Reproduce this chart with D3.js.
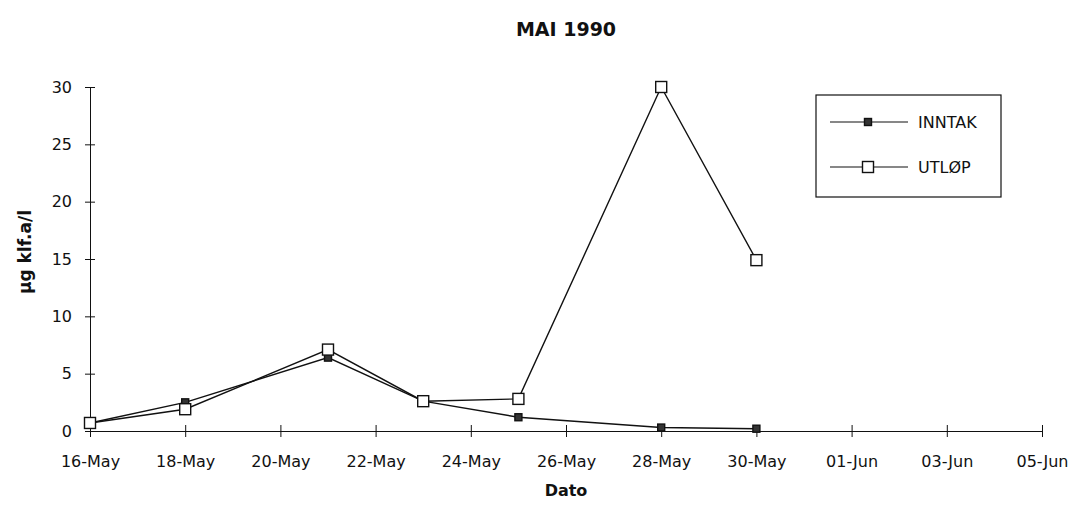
<!DOCTYPE html>
<html>
<head>
<meta charset="utf-8">
<script src="https://cdn.jsdelivr.net/npm/d3@7"></script>
<style>
  body { margin: 0; background: #fff; }
  text { font-family: "DejaVu Sans", sans-serif; fill: #111; }
</style>
</head>
<body>
<svg id="chart" width="1078" height="506"></svg>
<script>
// sample dates (1990) and measured values
var dates = ["1990-05-16", "1990-05-18", "1990-05-21", "1990-05-23", "1990-05-25", "1990-05-28", "1990-05-30"];
var inntak = [0.7, 2.5, 6.4, 2.6, 1.2, 0.3, 0.2];
var utlop = [0.7, 1.9, 7.1, 2.6, 2.8, 30, 14.9];
var yTicks = [0, 5, 10, 15, 20, 25, 30];
var xTicks = ["1990-05-16", "1990-05-18", "1990-05-20", "1990-05-22", "1990-05-24", "1990-05-26",
              "1990-05-28", "1990-05-30", "1990-06-01", "1990-06-03", "1990-06-05"];
var seriesNames = ["INNTAK", "UTLØP"];

var parse = d3.timeParse("%Y-%m-%d");
var svg = d3.select("#chart");

var x = d3.scaleTime()
    .domain([parse(xTicks[0]), parse(xTicks[xTicks.length - 1])])
    .range([90, 1042]);
var y = d3.scaleLinear()
    .domain([0, 30])
    .range([431, 87]);

// title
svg.append("text")
    .attr("x", 566).attr("y", 36)
    .attr("text-anchor", "middle")
    .style("font-size", "19px").style("font-weight", "bold")
    .text("MAI 1990");

// axes
var xAxis = d3.axisBottom(x)
    .tickValues(xTicks.map(parse))
    .tickFormat(d3.timeFormat("%d-%b"))
    .tickSizeInner(6).tickSizeOuter(0);
var yAxis = d3.axisLeft(y)
    .tickValues(yTicks)
    .tickSizeInner(5).tickSizeOuter(0);

var gx = svg.append("g").attr("transform", "translate(0," + y(0) + ")").call(xAxis);
gx.selectAll(".tick line").attr("y1", -6).attr("y2", 6);
gx.selectAll(".tick text").attr("y", 25).style("font-size", "16px");

var gy = svg.append("g").attr("transform", "translate(" + x(parse(xTicks[0])) + ",0)").call(yAxis);
gy.selectAll(".tick line").attr("x1", -5).attr("x2", 5);
gy.selectAll(".tick text").attr("x", -18).style("font-size", "16px");

svg.selectAll(".domain").attr("stroke", "#111");
svg.selectAll(".tick line").attr("stroke", "#111");
svg.selectAll(".tick text").style("fill", "#111").style("font-family", "'DejaVu Sans', sans-serif");

// axis titles
svg.append("text")
    .attr("transform", "translate(31,252) rotate(-90)")
    .attr("text-anchor", "middle")
    .style("font-size", "17px").style("font-weight", "bold")
    .text("µg klf.a/l");
svg.append("text")
    .attr("x", 566).attr("y", 496)
    .attr("text-anchor", "middle")
    .style("font-size", "16px").style("font-weight", "bold")
    .text("Dato");

// lines
var line = d3.line()
    .x(function (d) { return x(d[0]); })
    .y(function (d) { return y(d[1]); });

function pairs(vals) {
    return dates.map(function (d, i) { return [parse(d), vals[i]]; });
}

var series = [
    { name: seriesNames[0], data: pairs(inntak), fill: "#333", size: 7 },
    { name: seriesNames[1], data: pairs(utlop), fill: "#fff", size: 11 }
];

series.forEach(function (s) {
    svg.append("path")
        .datum(s.data)
        .attr("d", line)
        .attr("fill", "none")
        .attr("stroke", "#111")
        .attr("stroke-width", 1.4);
});

series.forEach(function (s) {
    svg.selectAll(null)
        .data(s.data)
        .enter()
        .append("rect")
        .attr("x", function (d) { return x(d[0]) - s.size / 2; })
        .attr("y", function (d) { return y(d[1]) - s.size / 2; })
        .attr("width", s.size).attr("height", s.size)
        .attr("fill", s.fill)
        .attr("stroke", "#111")
        .attr("stroke-width", 1.4);
});

// legend
var lg = svg.append("g");
lg.append("rect")
    .attr("x", 816).attr("y", 95)
    .attr("width", 185).attr("height", 102)
    .attr("fill", "#fff").attr("stroke", "#111").attr("stroke-width", 1.2);

series.forEach(function (s, i) {
    var ly = 122 + i * 45;
    lg.append("line")
        .attr("x1", 830).attr("x2", 908)
        .attr("y1", ly).attr("y2", ly)
        .attr("stroke", "#111").attr("stroke-width", 1.2);
    lg.append("rect")
        .attr("x", 868 - s.size / 2).attr("y", ly - s.size / 2)
        .attr("width", s.size).attr("height", s.size)
        .attr("fill", s.fill).attr("stroke", "#111").attr("stroke-width", 1.4);
    lg.append("text")
        .attr("x", 918).attr("y", ly + 6)
        .style("font-size", "16px")
        .text(s.name);
});
</script>
</body>
</html>
